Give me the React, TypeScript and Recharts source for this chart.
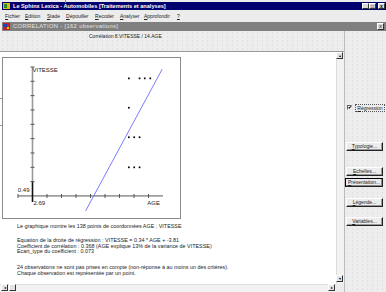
import React from "react";
import { ScatterChart, Scatter, XAxis, YAxis, ReferenceLine, ReferenceDot } from "recharts";

// window texts
const windowTitle = "Le Sphinx Lexica - Automobiles [Traitements et analyses]";
const menuItems = ["Fichier", "Edition", "Stade", "Dépouiller", "Recoder", "Analyser", "Approfondir", "?"];
const childTitle = "CORRELATION -  [162 observations]";
const chartTitle = "Corrélation 8.VITESSE / 14.AGE";
const buttonLabels = ["Typologie...", "Echelles...", "Présentation...", "Légende...", "Variables..."];
const checkLabel = "Régression";

// chart data, in the chart's own graduation (one unit = one tick)
const ages = [6.64, 7.38, 7.74, 8.12, 6.64, 6.64, 7.01, 7.38, 6.64, 7.01, 7.38];
const speeds = [8.21, 8.21, 8.21, 8.21, 6.16, 4.1, 4.1, 4.1, 2.0, 2.0, 2.0];
const regressionAge = [3.66, 8.94];
const regressionSpeed = [-1.05, 8.84];
const xTicks = [-1, 1, 2, 3, 4, 5, 6, 7, 8];
const yTicks = [1, 2, 3, 4, 5, 6, 7, 8, 9];
const xOriginLabel = "2.69";
const yOriginLabel = "0.49";
const xName = "AGE";
const yName = "VITESSE";

const notes1 = ["Le graphique montre les 138 points de coordonnées AGE ; VITESSE"];
const notes2 = [
  "Equation de la droite de régression : VITESSE = 0.34 * AGE + -3.81",
  "Coefficient de corrélation : 0.368 (AGE explique 13% de la variance de VITESSE)",
  "Ecart_type du coefficient : 0.073",
];
const notes3 = [
  "24 observations ne sont pas prises en compte (non-réponse à au moins un des critères).",
  "Chaque observation est représentée par un point.",
];

const points = ages.map((a, i) => ({ x: a, y: speeds[i] }));

const FONT = "'Liberation Sans', Arial, sans-serif";
const dots = {
  backgroundColor: "#ededed",
  backgroundImage: "radial-gradient(#cfcfcf 0.5px, transparent 0.7px)",
  backgroundSize: "5px 4px",
};

function Ul({ text }: { text: string }) {
  return (
    <span>
      <span style={{ textDecoration: "underline" }}>{text[0]}</span>
      {text.slice(1)}
    </span>
  );
}

function Btn({ label, top, left, width, def }: { label: string; top: number; left: number; width: number; def?: boolean }) {
  return (
    <div
      style={{
        position: "absolute",
        left,
        top,
        width,
        height: 9,
        boxSizing: "border-box",
        background: "#ececec",
        borderTop: def ? "1px solid #000" : "1px solid #fff",
        borderLeft: def ? "1px solid #000" : "1px solid #fff",
        borderRight: "1px solid #222",
        borderBottom: "1px solid #222",
        boxShadow: def ? "inset -1px -1px 0 #888" : "inset -1px -1px 0 #999",
        fontSize: 5,
        lineHeight: "7px",
        textAlign: "center",
        color: "#222",
      }}
    >
      <Ul text={label} />
    </div>
  );
}

const dotShape = (p: any) => <rect x={p.cx - 0.8} y={p.cy - 0.8} width={1.7} height={1.7} fill="#000" />;

const hTick = (p: any) => <line x1={p.cx} x2={p.cx} y1={p.cy - 2} y2={p.cy + 2} stroke="#555" strokeWidth={1} />;
const vTick = (p: any) => <line x1={p.cx - 2} x2={p.cx + 2} y1={p.cy} y2={p.cy} stroke="#555" strokeWidth={1} />;

const textAt = (text: string, dx: number, dy: number, anchor: "start" | "end") => (p: any) => (
  <text x={p.cx + dx} y={p.cy + dy} textAnchor={anchor} fontSize={6} fontFamily={FONT} fill="#222">
    {text}
  </text>
);

function Chart() {
  return (
    <ScatterChart width={180} height={170} margin={{ top: 17, right: 17, bottom: 4, left: 18 }}>
      <XAxis type="number" dataKey="x" domain={[-1, 9]} allowDataOverflow hide />
      <YAxis type="number" dataKey="y" domain={[-1.4, 9]} allowDataOverflow hide />
      <ReferenceLine segment={[{ x: -1, y: 0 }, { x: 9, y: 0 }]} stroke="#555" strokeWidth={1} ifOverflow="visible" />
      <ReferenceLine segment={[{ x: 0, y: 1 }, { x: 0, y: 9 }]} stroke="#999" strokeWidth={1.6} ifOverflow="visible" />
      <ReferenceLine segment={[{ x: 0, y: -0.42 }, { x: 0, y: 1 }]} stroke="#111" strokeWidth={1.6} ifOverflow="visible" />
      {xTicks.map((t) => (
        <ReferenceDot key={"x" + t} x={t} y={0} r={0} shape={hTick} ifOverflow="visible" />
      ))}
      {yTicks.map((t) => (
        <ReferenceDot key={"y" + t} x={0} y={t} r={0} shape={vTick} ifOverflow="visible" />
      ))}
      <ReferenceDot x={0} y={0} r={0} shape={textAt(yOriginLabel, -3, -4, "end")} ifOverflow="visible" />
      <ReferenceDot x={0} y={-0.01} r={0} shape={textAt(xOriginLabel, 1, 9, "start")} ifOverflow="visible" />
      <ReferenceDot x={9} y={0} r={0} shape={textAt(xName, -3, 9, "end")} ifOverflow="visible" />
      <ReferenceDot x={0} y={9} r={0} shape={textAt(yName, 0, 5, "start")} ifOverflow="visible" />
      <ReferenceLine
        segment={[
          { x: regressionAge[0], y: regressionSpeed[0] },
          { x: regressionAge[1], y: regressionSpeed[1] },
        ]}
        stroke="#7b7bff"
        strokeWidth={1}
        ifOverflow="visible"
      />
      <Scatter data={points} shape={dotShape} isAnimationActive={false} />
    </ScatterChart>
  );
}

export default function App() {
  const btnTops = [142, 167, 178, 198, 217];
  return (
    <div
      style={{
        position: "absolute",
        left: 0,
        top: 0,
        width: 386,
        height: 292,
        overflow: "hidden",
        fontFamily: FONT,
        background: "#ececec",
      }}
    >
      {/* main title bar */}
      <div style={{ position: "absolute", left: 2, top: 2, width: 384, height: 8, background: "#00006e" }} />
      <div style={{ position: "absolute", left: 65, top: 0, width: 1, height: 3, background: "#888" }} />
      <div style={{ position: "absolute", left: 3, top: 3, width: 7, height: 6, background: "#d8c000" }}>
        <div style={{ position: "absolute", left: 1, top: 1, width: 3, height: 4, background: "#2a8a2a" }} />
      </div>
      <div style={{ position: "absolute", left: 13, top: 2, fontSize: 5.6, fontWeight: "bold", color: "#fff", lineHeight: "8px", whiteSpace: "nowrap" }}>
        {windowTitle}
      </div>
      {["_", "\u25A1", "x"].map((c, i) => (
        <div
          key={c}
          style={{
            position: "absolute",
            left: [362, 369, 378][i],
            top: 3,
            width: 7,
            height: 6,
            boxSizing: "border-box",
            background: "#d8d8d8",
            border: "1px solid",
            borderColor: "#fff #333 #333 #fff",
            fontSize: 5,
            lineHeight: "4px",
            textAlign: "center",
            fontWeight: "bold",
          }}
        >
          {c}
        </div>
      ))}

      {/* menu */}
      {menuItems.map((m, i) => (
        <div key={m} style={{ position: "absolute", left: [5, 25, 47, 66, 95, 120, 144, 177][i], top: 13, fontSize: 5, color: "#222", whiteSpace: "nowrap" }}>
          <Ul text={m} />
        </div>
      ))}

      {/* child window title bar */}
      <div style={{ position: "absolute", left: 2, top: 22, width: 384, height: 9, background: "#808080" }} />
      <div style={{ position: "absolute", left: 3, top: 23, width: 7, height: 7, background: "#c02020" }}>
        <div style={{ position: "absolute", left: 1, top: 1, width: 3, height: 3, background: "#2040c0" }} />
        <div style={{ position: "absolute", left: 4, top: 4, width: 2, height: 2, background: "#e0d000" }} />
      </div>
      <div style={{ position: "absolute", left: 13, top: 22, fontSize: 5.8, color: "#e4e4e4", lineHeight: "9px", whiteSpace: "nowrap", letterSpacing: 0.35 }}>
        {childTitle}
      </div>
      <div
        style={{
          position: "absolute",
          left: 377,
          top: 23,
          width: 7,
          height: 7,
          boxSizing: "border-box",
          background: "#d8d8d8",
          border: "1px solid",
          borderColor: "#fff #333 #333 #fff",
          fontSize: 5,
          lineHeight: "5px",
          textAlign: "center",
        }}
      >
        x
      </div>

      {/* dotted dialog area */}
      <div style={{ position: "absolute", left: 0, top: 31, width: 386, height: 261, ...dots }} />
      <div style={{ position: "absolute", left: 89, top: 33, fontSize: 5, color: "#222", whiteSpace: "nowrap", background: "#ededed" }}>
        {chartTitle}
      </div>

      {/* white report panel */}
      <div style={{ position: "absolute", left: 0, top: 51, width: 343, height: 241, background: "#fff", borderTop: "1px solid #999", borderRight: "1px solid #999" }} />
      <div style={{ position: "absolute", left: 344, top: 31, width: 1, height: 261, background: "#bbb" }} />
      <div style={{ position: "absolute", left: 0, top: 98, width: 2, height: 1, background: "#999" }} />
      <div style={{ position: "absolute", left: 0, top: 125, width: 2, height: 1, background: "#999" }} />

      {/* chart frame */}
      <div style={{ position: "absolute", left: 2, top: 57, width: 179, height: 162, boxSizing: "border-box", border: "1px solid #8a8a8a" }} />
      <div style={{ position: "absolute", left: 0, top: 50 }}>
        <Chart />
      </div>

      {/* notes */}
      {[notes1, notes2, notes3].map((block, bi) => (
        <div key={bi} style={{ position: "absolute", left: 17, top: [224, 238, 265][bi], fontSize: 5.4, lineHeight: "5.7px", color: "#222", whiteSpace: "nowrap" }}>
          {block.map((l) => (
            <div key={l}>{l}</div>
          ))}
        </div>
      ))}

      {/* vertical scrollbar */}
      <div style={{ position: "absolute", left: 336, top: 52, width: 7, height: 232, background: "#f2f2f2", borderLeft: "1px solid #ddd" }} />
      {[52, 275].map((t, i) => (
        <div
          key={t}
          style={{
            position: "absolute",
            left: 336,
            top: t,
            width: 7,
            height: 7,
            boxSizing: "border-box",
            background: "#e4e4e4",
            border: "1px solid",
            borderColor: "#fff #333 #333 #fff",
            fontSize: 4,
            lineHeight: "5px",
            textAlign: "center",
          }}
        >
          {i === 0 ? "\u25B4" : "\u25BE"}
        </div>
      ))}

      {/* horizontal scrollbar */}
      <div style={{ position: "absolute", left: 0, top: 284, width: 336, height: 8, background: "#f2f2f2", borderTop: "1px solid #ddd" }} />
      {[1, 328].map((l, i) => (
        <div
          key={l}
          style={{
            position: "absolute",
            left: l,
            top: 284,
            width: 7,
            height: 7,
            boxSizing: "border-box",
            background: "#e4e4e4",
            border: "1px solid",
            borderColor: "#fff #333 #333 #fff",
            fontSize: 4,
            lineHeight: "5px",
            textAlign: "center",
          }}
        >
          {i === 0 ? "\u25C2" : "\u25B8"}
        </div>
      ))}
      <div
        style={{
          position: "absolute",
          left: 9,
          top: 284,
          width: 7,
          height: 7,
          boxSizing: "border-box",
          background: "#e4e4e4",
          border: "1px solid",
          borderColor: "#fff #333 #333 #fff",
        }}
      />
      <div style={{ position: "absolute", left: 336, top: 284, width: 8, height: 8, background: "#ececec" }} />

      {/* right controls */}
      <div
        style={{
          position: "absolute",
          left: 347,
          top: 105,
          width: 5,
          height: 5,
          boxSizing: "border-box",
          background: "#fff",
          border: "1px solid",
          borderColor: "#666 #eee #eee #666",
          fontSize: 5,
          lineHeight: "3px",
          textAlign: "center",
          fontWeight: "bold",
        }}
      >
        {"\u2714"}
      </div>
      <div
        style={{
          position: "absolute",
          left: 355,
          top: 104,
          width: 30,
          height: 8,
          boxSizing: "border-box",
          border: "1px dotted #555",
          fontSize: 5,
          lineHeight: "6px",
          textAlign: "center",
          color: "#222",
          background: "#ededed",
        }}
      >
        <Ul text={checkLabel} />
      </div>
      {buttonLabels.map((b, i) => (
        <Btn key={b} label={b} top={btnTops[i]} left={i === 2 ? 345 : 346} width={i === 2 ? 38 : 37} def={i === 2} />
      ))}
    </div>
  );
}
